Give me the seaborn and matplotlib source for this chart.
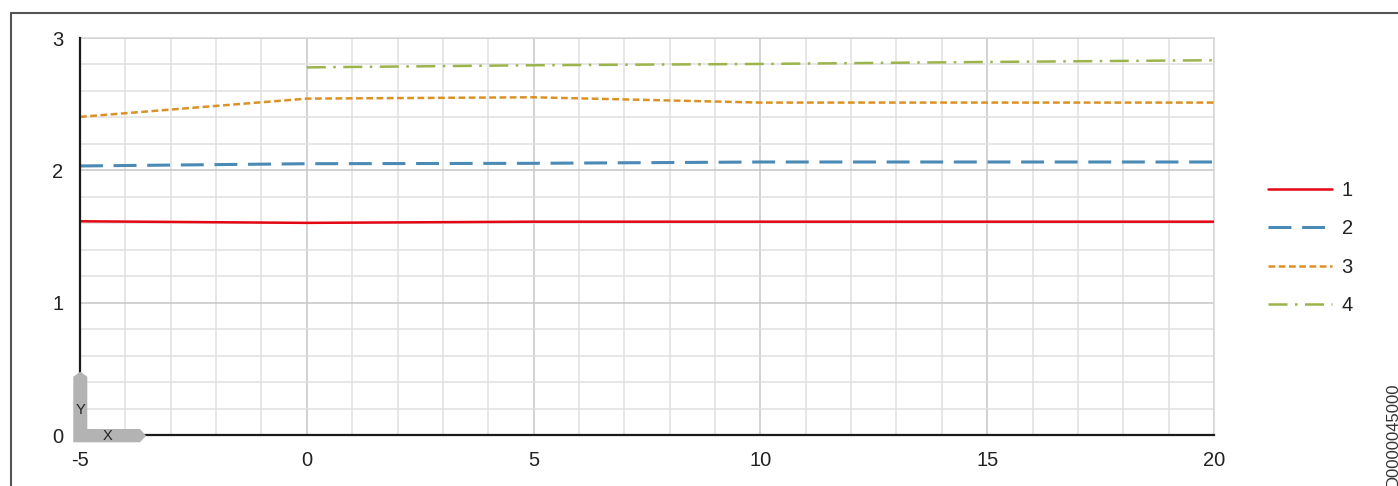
import numpy as np
import pandas as pd
import matplotlib.pyplot as plt
import seaborn as sns
from matplotlib.patches import Polygon
from matplotlib.lines import Line2D
from matplotlib.ticker import MultipleLocator

# values
x_main = [-5, 0, 5, 10, 15, 20]
x_4 = [0, 5, 10, 15, 20]
y_1 = [1.615, 1.603, 1.612, 1.612, 1.612, 1.612]
y_2 = [2.033, 2.050, 2.053, 2.063, 2.063, 2.063]
y_3 = [2.404, 2.542, 2.552, 2.512, 2.512, 2.512]
y_4 = [2.778, 2.794, 2.804, 2.819, 2.832]
labels = ['1', '2', '3', '4']
colors = ['#e30613', '#4a8ab5', '#da9226', '#9bb44c']

df = pd.concat([
    pd.DataFrame({'x': x_main, 'y': y_1, 'series': '1'}),
    pd.DataFrame({'x': x_main, 'y': y_2, 'series': '2'}),
    pd.DataFrame({'x': x_main, 'y': y_3, 'series': '3'}),
    pd.DataFrame({'x': x_4, 'y': y_4, 'series': '4'}),
])

sns.set_style('white')
plt.rcParams['font.family'] = ['Liberation Sans', 'DejaVu Sans']
plt.rcParams['axes.unicode_minus'] = False

W, H = 1398, 486
fig = plt.figure(figsize=(W / 100, H / 100), dpi=100)
ax = fig.add_axes([80 / W, 1 - 435 / H, 1134 / W, 397 / H])

dash_styles = {'1': '', '2': (7.5, 3.5), '3': (2.7, 1.4), '4': (7.6, 3.0, 1.0, 3.0)}
widths = {'1': 1.8, '2': 2.2, '3': 1.8, '4': 1.8}
sns.lineplot(data=df, x='x', y='y', hue='series', style='series',
             palette=dict(zip(labels, colors)), dashes=dash_styles,
             legend=False, ax=ax, zorder=3)
for line, lab in zip(ax.get_lines(), labels):
    line.set_linewidth(widths[lab])

ax.set_xlim(-5, 20)
ax.set_ylim(0, 3)
ax.set_xticks(range(-5, 21, 5))
ax.set_yticks([0, 1, 2, 3])
ax.xaxis.set_minor_locator(MultipleLocator(1))
ax.yaxis.set_minor_locator(MultipleLocator(0.2))
ax.grid(which='major', color='#c6c6c6', lw=1.1)
ax.grid(which='minor', color='#e0e0e0', lw=1.1)
ax.set_axisbelow(True)
ax.tick_params(which='both', length=0, labelsize=14.5, colors='#222222')
ax.tick_params(axis='x', pad=11.5)
ax.tick_params(axis='y', pad=12)
ax.set_xlabel('')
ax.set_ylabel('')
for s in ['left', 'bottom']:
    ax.spines[s].set_color('#1a1a1a')
    ax.spines[s].set_linewidth(1.6)
    ax.spines[s].set_zorder(4)
for s in ['top', 'right']:
    ax.spines[s].set_color('#d6d6d6')
    ax.spines[s].set_linewidth(1.1)

handles = [Line2D([], [], color=c, lw=widths[l],
                  linestyle=(0, dash_styles[l]) if dash_styles[l] else '-')
           for l, c in zip(labels, colors)]
fig.legend(handles, labels, loc='center left', bbox_to_anchor=(1268 / W, 1 - 248 / H),
           frameon=False, fontsize=14.5, handlelength=3.2, handletextpad=0.45,
           labelspacing=0.97, borderpad=0, borderaxespad=0, labelcolor='#222222')

# X/Y orientation arrow at the origin
pts = [(73.3, 442.3), (73.3, 376.7), (80.3, 371.7), (87.3, 376.7), (87.3, 429),
       (140, 429), (146, 435.7), (140, 442.3)]
fig.add_artist(Polygon([(px / W, 1 - py / H) for px, py in pts], closed=True,
                       facecolor='#b3b3b3', edgecolor='none', transform=fig.transFigure))
fig.text(80 / W, 1 - 410 / H, 'Y', fontsize=10.5, ha='center', va='center', color='#222222')
fig.text(107.5 / W, 1 - 436 / H, 'X', fontsize=10.5, ha='center', va='center', color='#222222')

# outer frame (top and left edges)
fig.add_artist(Line2D([11 / W, 11 / W], [0, 1 - 13 / H], color='#555555', lw=1.5,
                      transform=fig.transFigure))
fig.add_artist(Line2D([11 / W, 1], [1 - 13 / H, 1 - 13 / H], color='#555555', lw=1.5,
                      transform=fig.transFigure))

fig.text(1393 / W, 1 - 487 / H, 'D0000045000', rotation=90, fontsize=12,
         ha='center', va='bottom', color='#333333')

fig.savefig('out.png', dpi=100, facecolor='white')
